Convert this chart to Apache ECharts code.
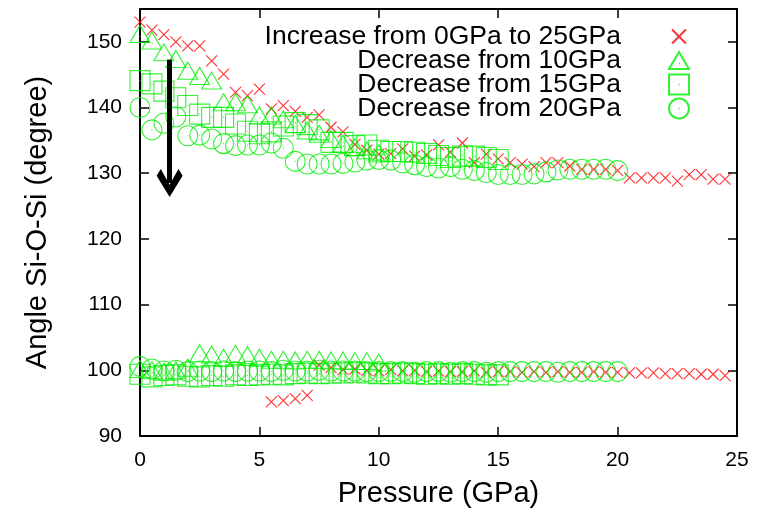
<!DOCTYPE html>
<html>
<head>
<meta charset="utf-8">
<title>Angle Si-O-Si vs Pressure</title>
<script src="https://cdn.jsdelivr.net/npm/echarts@6/dist/echarts.min.js"></script>
<style>
  html, body { margin: 0; padding: 0; background: #ffffff; }
  #chart { width: 764px; height: 513px; }
</style>
</head>
<body>
<div id="chart"></div>
<script>
// Series names
const names = [
  'Increase from 0GPa to 25GPa',
  'Decrease from 10GPa',
  'Decrease from 15GPa',
  'Decrease from 20GPa'
];

// Axis tick values
const xTicks = [0, 5, 10, 15, 20, 25];
const yTicks = [90, 100, 110, 120, 130, 140, 150];

// Compression run: upper (~130-153 deg) and lower (~95-101 deg) branches, [P, angle]
const incUpper = [
  [0,153.0],[0.5,151.8],[1,151.1],[1.5,150.0],[2,149.4],[2.5,149.4],[3,147.1],[3.5,145.1],
  [4,142.3],[4.5,141.8],[5,142.8],[5.5,139.8],[6,140.3],[6.5,139.4],[7,138.5],[7.5,138.9],
  [8,137.0],[8.5,136.3],[9,134.4],[9.5,133.5],[10,132.9],[10.5,133.0],[11,133.7],[11.5,132.6],
  [12,132.8],[12.5,134.3],[13,133.2],[13.5,134.6],[14,131.6],[14.5,132.9],[15,132.2],[15.5,131.6],
  [16,131.4],[16.5,131.0],[17,131.6],[17.5,131.6],[18,131.1],[18.5,130.6],[19,130.6],[19.5,130.6],
  [20,130.4],[20.5,129.3],[21,129.3],[21.5,129.3],[22,129.3],[22.5,128.8],[23,129.8],[23.5,129.8],
  [24,129.1],[24.5,129.1]
];
const incLower = [
  [5.5,95.2],[6,95.4],[6.5,95.7],[7,96.2],[7.5,100.8],[8,100.4],[8.5,100.1],[9,100.2],
  [9.5,100.0],[10,99.9],[10.5,100.1],[11,99.9],[11.5,100.0],[12,99.8],[12.5,99.9],[13,99.8],
  [13.5,99.8],[14,99.9],[14.5,99.7],[15,99.8],[15.5,99.8],[16,99.7],[16.5,99.8],[17,99.7],
  [17.5,99.8],[18,99.7],[18.5,99.7],[19,99.8],[19.5,99.7],[20,99.7],[20.5,99.6],[21,99.6],
  [21.5,99.6],[22,99.5],[22.5,99.5],[23,99.5],[23.5,99.4],[24,99.4],[24.5,99.2]
];

// Decompression from 10 GPa
const dec10Upper = [
  [0,151.2],[0.5,150.2],[1,148.4],[1.5,147.4],[2,145.6],[2.5,144.8],[3,144.1],[3.5,140.8],
  [4,140.8],[4.5,140.5],[5,138.8],[5.5,138.8],[6,138.2],[6.5,137.5],[7,136.5],[7.5,136.0],
  [8,135.2],[8.5,134.5],[9,134.0],[9.5,133.5],[10,133.0]
];
const dec10Lower = [
  [0,100.2],[0.5,100.0],[1,99.8],[1.5,100.0],[2,100.4],[2.5,102.6],[3,102.4],[3.5,101.9],
  [4,102.5],[4.5,102.3],[5,101.9],[5.5,101.6],[6,101.6],[6.5,101.5],[7,101.6],[7.5,101.6],
  [8,101.5],[8.5,101.5],[9,101.4],[9.5,101.4],[10,101.2]
];

// Decompression from 15 GPa
const dec15Upper = [
  [0,144.1],[0.5,143.6],[1,142.5],[1.5,141.5],[2,140.3],[2.5,139.0],[3,138.5],[3.5,138.5],
  [4,137.5],[4.5,136.4],[5,136.0],[5.5,136.3],[6,137.2],[6.5,137.7],[7,137.4],[7.5,136.6],
  [8,134.7],[8.5,134.7],[9,134.2],[9.5,134.3],[10,133.5],[10.5,133.3],[11,133.3],[11.5,133.2],
  [12,133.0],[12.5,132.7],[13,132.4],[13.5,132.6],[14,132.6],[14.5,132.4],[15,132.1]
];
const dec15Lower = [
  [0,99.4],[0.5,99.0],[1,99.2],[1.5,99.3],[2,99.1],[2.5,99.0],[3,99.2],[3.5,99.1],
  [4,99.3],[4.5,99.2],[5,99.3],[5.5,99.4],[6,99.3],[6.5,99.5],[7,99.6],[7.5,99.5],
  [8,99.6],[8.5,99.6],[9,99.7],[9.5,99.6],[10,99.5],[10.5,99.5],[11,99.6],[11.5,99.5],
  [12,99.4],[12.5,99.5],[13,99.4],[13.5,99.5],[14,99.4],[14.5,99.3],[15,99.3]
];

// Decompression from 20 GPa
const dec20Upper = [
  [0,140.0],[0.5,136.6],[1,137.6],[1.5,138.6],[2,135.7],[2.5,135.8],[3,135.2],[3.5,134.5],
  [4,134.2],[4.5,134.3],[5,134.3],[5.5,134.6],[6,133.8],[6.5,131.8],[7,131.4],[7.5,131.4],
  [8,131.4],[8.5,131.5],[9,131.7],[9.5,132.0],[10,132.1],[10.5,132.0],[11,131.6],[11.5,131.3],
  [12,131.0],[12.5,130.8],[13,131.0],[13.5,130.6],[14,130.4],[14.5,130.1],[15,129.8],[15.5,129.8],
  [16,129.8],[16.5,129.9],[17,130.2],[17.5,130.5],[18,130.6],[18.5,130.6],[19,130.6],[19.5,130.6],
  [20,130.4]
];
const dec20Lower = [
  [0,100.6],[0.5,100.2],[1,99.9],[1.5,100.0],[2,99.8],[2.5,99.9],[3,99.8],[3.5,99.9],
  [4,99.8],[4.5,99.9],[5,99.9],[5.5,99.8],[6,100.0],[6.5,99.9],[7,99.9],[7.5,100.0],
  [8,99.9],[8.5,99.9],[9,99.9],[9.5,99.8],[10,99.8],[10.5,99.8],[11,99.8],[11.5,99.7],
  [12,99.8],[12.5,99.8],[13,99.7],[13.5,99.8],[14,99.8],[14.5,99.7],[15,99.8],[15.5,99.8],
  [16,99.8],[16.5,99.8],[17,99.8],[17.5,99.7],[18,99.8],[18.5,99.8],[19,99.8],[19.5,99.8],
  [20,99.8]
];

// Arrow annotation, data coordinates [P, angle]
const arrowFrom = [1.24, 147.3];
const arrowTo = [1.24, 128.5];

// Hollow point symbols with a centre dot
const SYM_CROSS = 'path://M0,0L10,10M10,0L0,10';
// Same cross with empty margin so it sits smaller inside the legend icon box
const SYM_CROSS_KEY = 'path://M-2.2,-2.2M12.2,12.2M0,0L10,10M10,0L0,10';
const SYM_TRI = 'path://M10,0L20,17L0,17ZM10,11.2L10.9,11.2';
const SYM_SQUARE = 'path://M0,0L20,0L20,20L0,20ZM9.6,10L10.5,10';
const SYM_CIRCLE = 'path://M0,10A10,10,0,1,1,20,10A10,10,0,1,1,0,10ZM9.6,10L10.5,10';
// Open V arrowhead, tip at the top (rotated along the line by ECharts)
const SYM_ARROWHEAD = 'path://M12.5,0L25,19L21,25L12.5,11L4,25L0,19Z';

const RED = '#ff0000';
const GREEN = '#00ee00';
const FONT = 'Liberation Sans';

function pointSeries(name, data, symbol, size, color, extra) {
  return Object.assign({
    name: name,
    type: 'scatter',
    data: data,
    symbol: symbol,
    symbolSize: size,
    itemStyle: { color: 'rgba(0,0,0,0)', borderColor: color, borderWidth: 1.1 },
    emphasis: { disabled: true }
  }, extra || {});
}

const chart = echarts.init(document.getElementById('chart'), null, { renderer: 'canvas' });

const axisCommon = {
  axisLine: { show: true, onZero: false, lineStyle: { color: '#000', width: 2 } },
  axisTick: { show: true, inside: true, length: 9, lineStyle: { color: '#000', width: 1.5 } },
  splitLine: { show: false }
};

chart.setOption({
  animation: false,
  backgroundColor: '#ffffff',
  grid: { left: 140, right: 27, top: 9, bottom: 77, containLabel: false },
  legend: {
    orient: 'vertical',
    align: 'right',
    right: 69,
    top: 18,
    itemWidth: 20,
    itemHeight: 20,
    itemGap: -3,
    data: [
      { name: names[0], icon: SYM_CROSS_KEY },
      names[1], names[2], names[3]
    ],
    textStyle: {
      fontFamily: FONT, fontSize: 26.5, color: '#000',
      padding: [0, 43, 0, 0]
    }
  },
  xAxis: [
    Object.assign({
      type: 'value', min: xTicks[0], max: xTicks[xTicks.length - 1], interval: xTicks[1] - xTicks[0],
      position: 'bottom',
      name: 'Pressure (GPa)', nameLocation: 'middle', nameGap: 43,
      nameTextStyle: { fontFamily: FONT, fontSize: 29, color: '#000' },
      axisLabel: { fontFamily: FONT, fontSize: 21, color: '#000', margin: 14 }
    }, axisCommon),
    Object.assign({
      type: 'value', min: xTicks[0], max: xTicks[xTicks.length - 1], interval: xTicks[1] - xTicks[0],
      position: 'top', axisLabel: { show: false }
    }, axisCommon)
  ],
  yAxis: [
    Object.assign({
      type: 'value', min: yTicks[0], max: 155, interval: yTicks[1] - yTicks[0],
      position: 'left',
      name: 'Angle Si-O-Si (degree)', nameLocation: 'middle', nameGap: 88,
      nameTextStyle: { fontFamily: FONT, fontSize: 29, color: '#000' },
      axisLabel: { fontFamily: FONT, fontSize: 21, color: '#000', margin: 18, showMaxLabel: false }
    }, axisCommon),
    Object.assign({
      type: 'value', min: yTicks[0], max: 155, interval: yTicks[1] - yTicks[0],
      position: 'right', axisLabel: { show: false }
    }, axisCommon)
  ],
  series: [
    pointSeries(names[0], incUpper.concat(incLower), SYM_CROSS, [11, 11], RED, {
      markLine: {
        silent: true,
        symbol: ['none', SYM_ARROWHEAD],
        symbolSize: [26, 28],
        label: { show: false },
        lineStyle: { color: '#000', width: 5, type: 'solid' },
        emphasis: { disabled: true },
        data: [[{ coord: arrowFrom }, { coord: arrowTo }]]
      }
    }),
    pointSeries(names[1], dec10Upper.concat(dec10Lower), SYM_TRI, [20, 17], GREEN),
    pointSeries(names[2], dec15Upper.concat(dec15Lower), SYM_SQUARE, [20, 20], GREEN),
    pointSeries(names[3], dec20Upper.concat(dec20Lower), SYM_CIRCLE, [20, 20], GREEN)
  ]
});
</script>
</body>
</html>
